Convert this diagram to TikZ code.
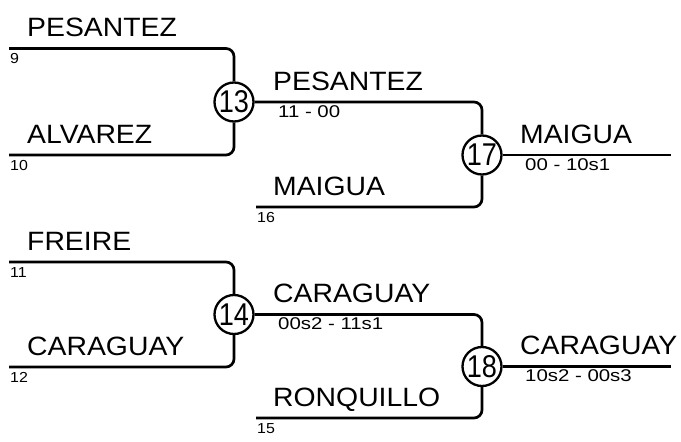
\documentclass[tikz,border=0pt]{standalone}
\usepackage{fontspec}
\newfontfamily\namefnt[FakeStretch=1.07]{Liberation Sans}
\newfontfamily\scorefnt[FakeStretch=1.2]{Liberation Sans}
\newfontfamily\seedfnt[FakeStretch=1.1]{Liberation Sans}
\newfontfamily\matchfnt[FakeStretch=0.86]{Liberation Sans}
\begin{document}
\begin{tikzpicture}[x=1pt,y=-1pt,
  connline/.style={line width=2.7pt,rounded corners=8pt},
  matchcirc/.style={circle,draw,line width=2.3pt,minimum size=39pt,inner sep=0pt,font=\matchfnt\fontsize{31.5}{32}\selectfont},
  playername/.style={anchor=base west,inner sep=0pt,font=\namefnt\fontsize{26.5}{30}\selectfont},
  scoretext/.style={anchor=base west,inner sep=0pt,font=\scorefnt\fontsize{17}{18}\selectfont},
  seedtext/.style={anchor=base west,inner sep=0pt,font=\seedfnt\fontsize{14.5}{16}\selectfont}]
\useasboundingbox (0,0) rectangle (681,442);
% match circles
\node[matchcirc] (m13) at (234,102) {13};
\node[matchcirc] (m14) at (234,314.5) {14};
\node[matchcirc] (m17) at (482,155) {17};
\node[matchcirc] (m18) at (482,366.5) {18};
% line starts
\coordinate (p9) at (9,48.5);
\coordinate (p10) at (9,155);
\coordinate (p11) at (9,262);
\coordinate (p12) at (9,367);
\coordinate (p16) at (256,207);
\coordinate (p15) at (256,418);
\coordinate (e17) at (671,155);
\coordinate (e18) at (671,366.5);
% connectors
\draw[connline] (p9) -| (m13.north);
\draw[connline] (p10) -| (m13.south);
\draw[connline] (p11) -| (m14.north);
\draw[connline] (p12) -| (m14.south);
\draw[connline] (m13.east) -| (m17.north);
\draw[connline] (p16) -| (m17.south);
\draw[connline] (m14.east) -| (m18.north);
\draw[connline] (p15) -| (m18.south);
\draw[connline] (m17.east) -- (e17);
\draw[connline] (m18.east) -- (e18);
% names
\node[playername] (n9) at (27,36.5) {PESANTEZ};
\node[seedtext] (s9) at (10,63.5) {9};
\node[playername] (n10) at (27,143) {ALVAREZ};
\node[seedtext] (s10) at (10,170) {10};
\node[playername] (n13) at (273,90) {PESANTEZ};
\node[scoretext] (r13) at (278,117) {11 - 00};
\node[playername] (n16) at (273,195) {MAIGUA};
\node[seedtext] (s16) at (257,222) {16};
\node[playername] (n17) at (520,143) {MAIGUA};
\node[scoretext] (r17) at (525,170) {00 - 10s1};
\node[playername] (n11) at (27,250) {FREIRE};
\node[seedtext] (s11) at (10,277) {11};
\node[playername] (n12) at (27,355) {CARAGUAY};
\node[seedtext] (s12) at (10,382) {12};
\node[playername] (n14) at (273,302.5) {CARAGUAY};
\node[scoretext] (r14) at (278,329.5) {00s2 - 11s1};
\node[playername] (n15) at (273,406) {RONQUILLO};
\node[seedtext] (s15) at (257,433) {15};
\node[playername] (n18) at (520,354.5) {CARAGUAY};
\node[scoretext] (r18) at (525,381.5) {10s2 - 00s3};
\end{tikzpicture}
\end{document}
